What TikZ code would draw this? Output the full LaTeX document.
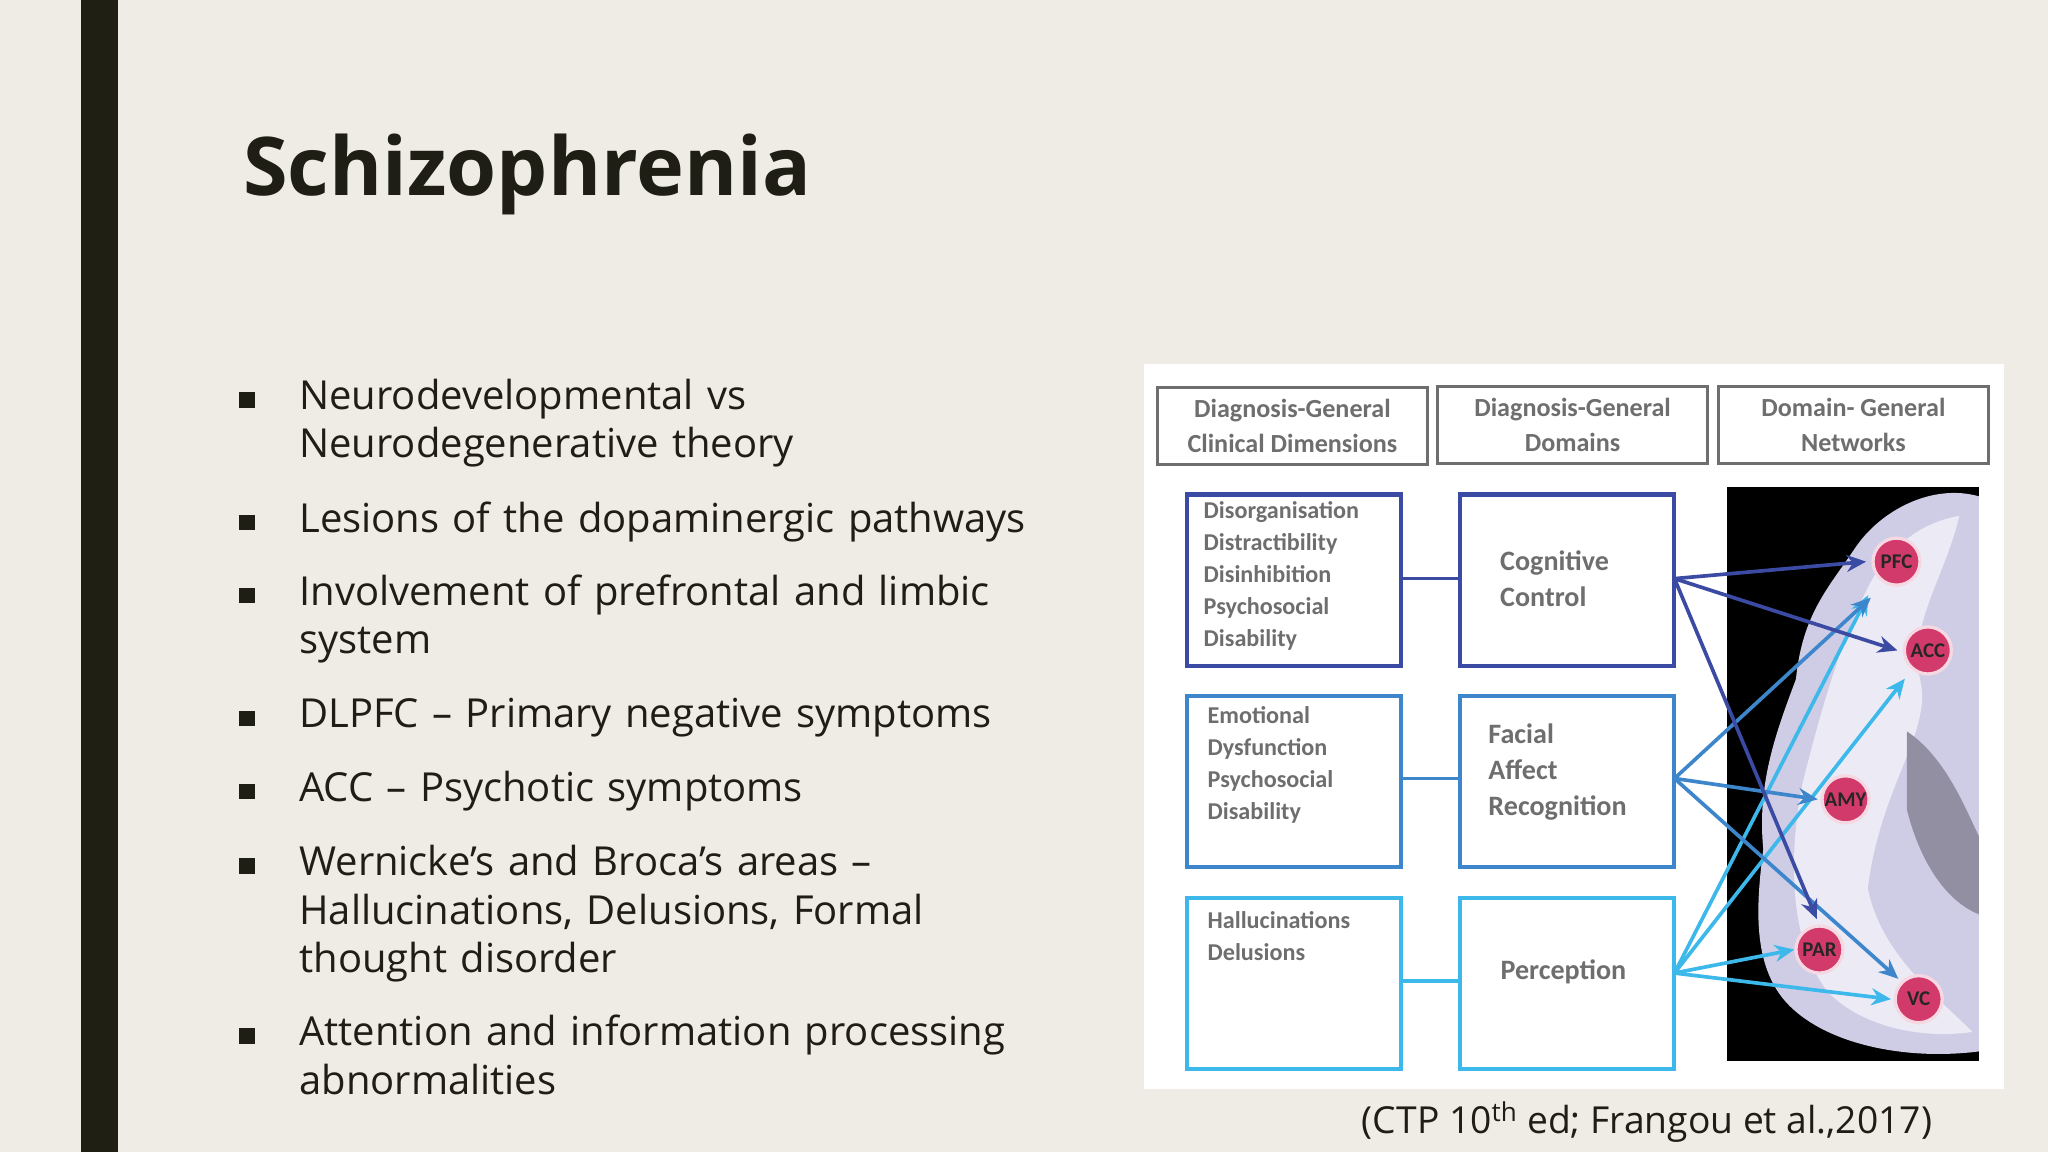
\documentclass[tikz,border=0pt]{standalone}
\usepackage{fontspec}
\setmainfont{Open Sans}
\newfontfamily\calib{Carlito}
\usetikzlibrary{arrows.meta}
\definecolor{bg}{HTML}{EFECE5}
\definecolor{bar}{HTML}{1F1F14}
\definecolor{dkb}{HTML}{3B4BA3}
\definecolor{mdb}{HTML}{3E86CC}
\definecolor{ltb}{HTML}{3CB8EA}
\definecolor{hdr}{HTML}{6E6E6E}
\definecolor{txt}{HTML}{1E1E14}
\definecolor{roi}{HTML}{D23A6C}
\definecolor{brainc}{HTML}{CFCCE6}
\tikzset{
 hdrbox/.style={draw=hdr,line width=2pt,fill=white,minimum width=207pt,minimum height=59pt,align=center,text=hdr,font=\calib\bfseries\fontsize{20}{27}\selectfont},
 cbox/.style={line width=3.2pt,fill=white,minimum width=164pt,minimum height=131pt,text=hdr,font=\calib\bfseries\fontsize{18.5}{24.5}\selectfont,align=left},
 bul/.style={anchor=north west,text=txt,align=left,text width=620pt,font=\fontsize{30.6}{37}\selectfont,inner sep=0pt},
 sq/.style={fill=txt,minimum size=12pt,inner sep=0pt},
 roinode/.style={circle,fill=roi,draw=white!80!roi,line width=2.5pt,minimum size=36pt,inner sep=0pt,text=black!85,font=\calib\bfseries\fontsize{16}{16}\selectfont},
 arr/.style={line width=2.8pt,-{Stealth[length=15pt,width=13pt]}},
 lnk/.style={line width=2.8pt}
}
\begin{document}
\begin{tikzpicture}[x=1pt,y=-1pt]
\useasboundingbox (0,0) rectangle (1568,882);
\fill[bg] (0,0) rectangle (1568,882);
\fill[bar] (62,0) rectangle (90,882);
\node[anchor=base west,inner sep=0pt,text=txt,font=\bfseries\fontsize{62}{62}\selectfont] (title) at (186,150) {Schizophrenia};
% bullets
\foreach \y/\t [count=\i] in {
 290/{Neurodevelopmental vs\\Neurodegenerative theory},
 384/{Lesions of the dopaminergic pathways},
 440/{Involvement of prefrontal and limbic\\system},
 534/{DLPFC -- Primary negative symptoms},
 590/{ACC -- Psychotic symptoms},
 647/{Wernicke’s and Broca’s areas --\\Hallucinations, Delusions, Formal\\thought disorder},
 777/{Attention and information processing\\abnormalities}}{
 \node[sq] (s\i) at (189,\y+16) {};
 \node[bul] (b\i) at (229,\y) {\t};
}
% panel
\fill[white] (876,279) rectangle (1534,834);
\node[hdrbox] (h1) at (989.5,326) {Diagnosis-General\\Clinical Dimensions};
\node[hdrbox] (h2) at (1204,325.5) {Diagnosis-General\\Domains};
\node[hdrbox] (h3) at (1419,325.5) {Domain- General\\Networks};
% brain
\fill[black] (1322,373) rectangle (1515,812);
\begin{scope}
\clip (1322,373) rectangle (1515,812);
\fill[brainc] (1515,380) .. controls (1480,370) and (1440,390) .. (1420,420)
 .. controls (1400,450) and (1380,470) .. (1375,520)
 .. controls (1360,560) and (1345,600) .. (1350,650)
 .. controls (1345,690) and (1340,740) .. (1370,770)
 .. controls (1400,800) and (1460,812) .. (1515,805) -- cycle;
\fill[white!60!brainc] (1500,395) .. controls (1470,400) and (1445,420) .. (1430,450)
 .. controls (1410,490) and (1395,540) .. (1380,600)
 .. controls (1370,650) and (1368,720) .. (1400,760)
 .. controls (1430,790) and (1480,795) .. (1510,790)
 .. controls (1480,760) and (1440,730) .. (1430,680)
 .. controls (1440,600) and (1480,560) .. (1470,520)
 .. controls (1460,480) and (1490,440) .. (1500,395) -- cycle;
\fill[brainc!70!black] (1460,560) .. controls (1490,580) and (1505,620) .. (1515,640) -- (1515,700) .. controls (1490,690) and (1470,660) .. (1460,620) -- cycle;
\end{scope}
% columns
\node[cbox,draw=dkb,anchor=north west,inner sep=0pt] (l1) at (907,377) {};
\node[anchor=north west,cbox,draw=none,fill=none,minimum size=0pt,inner sep=0pt] (l1t) at (920,382) {Disorganisation\\Distractibility\\Disinhibition\\Psychosocial\\Disability};
\node[cbox,draw=mdb,anchor=north west,inner sep=0pt] (l2) at (907,531) {};
\node[anchor=north west,cbox,draw=none,fill=none,minimum size=0pt,inner sep=0pt] (l2t) at (923,539) {Emotional\\Dysfunction\\Psychosocial\\Disability};
\node[cbox,draw=ltb,anchor=north west,inner sep=0pt] (l3) at (907,686) {};
\node[anchor=north west,cbox,draw=none,fill=none,minimum size=0pt,inner sep=0pt] (l3t) at (923,696) {Hallucinations\\Delusions};
\node[cbox,draw=dkb,anchor=north west,inner sep=0pt] (m1) at (1116,377) {};
\node[anchor=west,cbox,draw=none,fill=none,minimum size=0pt,inner sep=0pt,font=\calib\bfseries\fontsize{21.5}{27}\selectfont] (m1t) at (1147,443) {Cognitive\\Control};
\node[cbox,draw=mdb,anchor=north west,inner sep=0pt] (m2) at (1116,531) {};
\node[anchor=west,cbox,draw=none,fill=none,minimum size=0pt,inner sep=0pt,font=\calib\bfseries\fontsize{21.5}{27.5}\selectfont] (m2t) at (1138,591) {Facial\\Affect\\Recognition};
\node[cbox,draw=ltb,anchor=north west,inner sep=0pt] (m3) at (1116,686) {};
\node[anchor=center,cbox,draw=none,fill=none,minimum size=0pt,inner sep=0pt,font=\calib\bfseries\fontsize{21.5}{27}\selectfont] (m3t) at (1197,744) {Perception};
\draw[lnk,dkb] (l1.east |- 0,443) -- (m1.west |- 0,443);
\draw[lnk,mdb] (l2.east |- 0,596) -- (m2.west |- 0,596);
\draw[lnk,ltb] (l3.east |- 0,751) -- (m3.west |- 0,751);
% ROI nodes
\node[roinode] (pfc) at (1452,430) {PFC};
\node[roinode] (acc) at (1476,498) {ACC};
\node[roinode] (amy) at (1413,612) {AMY};
\node[roinode] (par) at (1393,727) {PAR};
\node[roinode] (vc) at (1469,765) {VC};
\coordinate (o1) at (1282,443);
\coordinate (o2) at (1282,596);
\coordinate (o3) at (1282,745);
% arrows
\draw[arr,ltb] (o3) -- ([shift={(-8,12)}]pfc.south west);
\draw[arr,ltb] (o3) -- ([shift={(-4,8)}]acc.south west);
\draw[arr,ltb] (o3) -- (par.west);
\draw[arr,ltb] (o3) -- ([xshift=-2pt]vc.west);
\draw[arr,mdb] (o2) -- ([shift={(-6,14)}]pfc.south west);
\draw[arr,mdb] (o2) -- ([xshift=-2pt]amy.west);
\draw[arr,mdb] (o2) -- ([shift={(-2,-2)}]vc.north west);
\draw[arr,dkb] (o1) -- ([xshift=-4pt]pfc.west);
\draw[arr,dkb] (o1) -- ([xshift=-4pt]acc.west);
\draw[arr,dkb] (o1) -- ([shift={(-2,-4)}]par.north);
% caption
\node[anchor=base,inner sep=0pt,text=txt,font=\fontsize{28.5}{28.5}\selectfont] (cap) at (1261,868) {(CTP 10\textsuperscript{th} ed; Frangou et al.,2017)};
\end{tikzpicture}
\end{document}
